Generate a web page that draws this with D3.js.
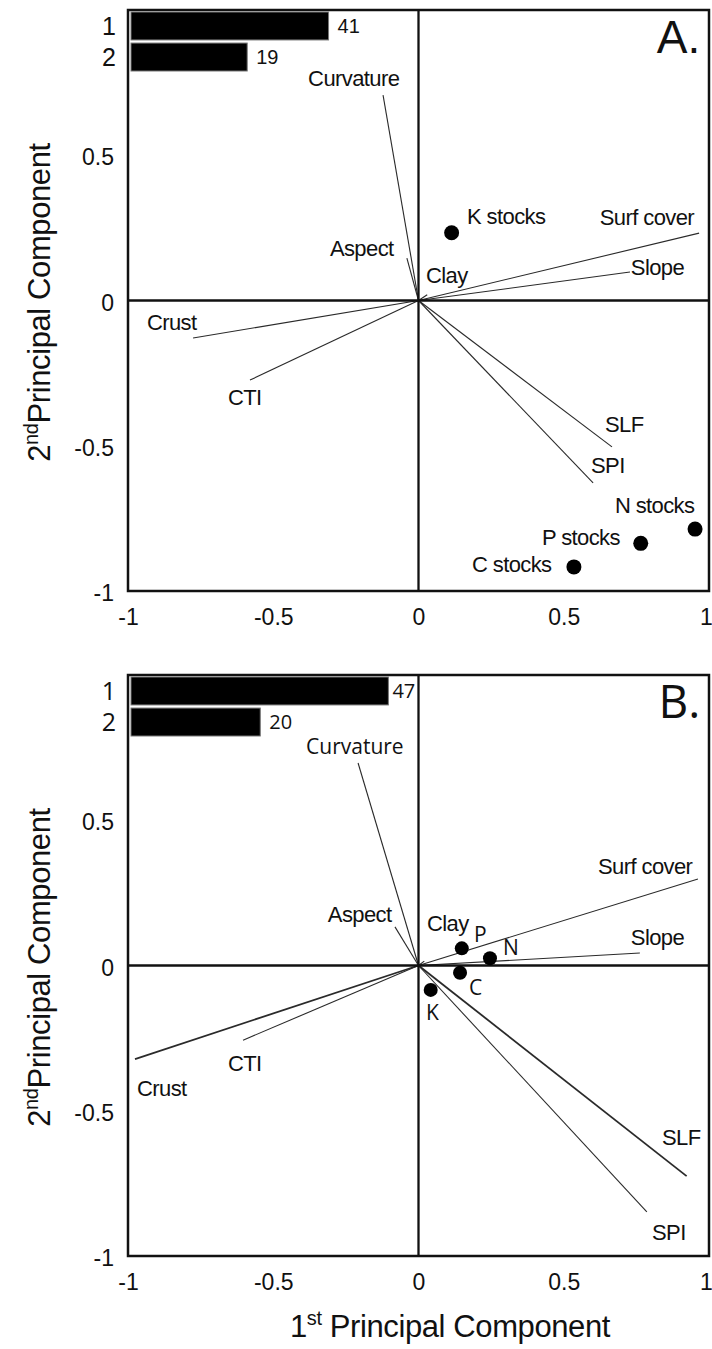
<!DOCTYPE html>
<html>
<head>
<meta charset="utf-8">
<script src="https://cdn.jsdelivr.net/npm/d3@7"></script>
<style>
  body { margin: 0; background: #fff; }
  text { font-family: "Liberation Sans", Arial, sans-serif; fill: #111; }
  .open { font-family: "Open Sans", sans-serif; }
</style>
</head>
<body>
<div class="canvas"></div>
<script>
// ---------- data ----------
const xTickVals = [-1, -0.5, 0, 0.5, 1];
const yTickVals = [-1, -0.5, 0, 0.5];
const barNames = ['1', '2'];

// panel A: variable loadings (vectors) and stock scores (points)
const varsA  = ['Curvature', 'Aspect', 'Clay', 'Surf cover', 'Slope', 'Crust', 'CTI', 'SLF', 'SPI'];
const varsAx = [-0.122, -0.040, 0.030, 0.966, 0.728, -0.776, -0.580, 0.666, 0.601];
const varsAy = [0.707, 0.146, 0.020, 0.232, 0.098, -0.129, -0.274, -0.504, -0.628];
const stocksA  = ['K stocks', 'N stocks', 'P stocks', 'C stocks'];
const stocksAx = [0.114, 0.952, 0.765, 0.535];
const stocksAy = [0.233, -0.787, -0.836, -0.917];
const pctA = [41, 19];          // % variance shown next to bars
const barLenA = [0.68, 0.40];   // bar length (axis units)

// panel B
const varsB  = ['Curvature', 'Aspect', 'Clay', 'Surf cover', 'Slope', 'Crust', 'CTI', 'SLF', 'SPI'];
const varsBx = [-0.208, -0.081, 0.020, 0.962, 0.762, -0.976, -0.604, 0.923, 0.786];
const varsBy = [0.697, 0.133, 0.015, 0.298, 0.043, -0.322, -0.257, -0.725, -0.848];
const stocksB  = ['P', 'N', 'C', 'K'];
const stocksBx = [0.149, 0.246, 0.143, 0.042];
const stocksBy = [0.059, 0.025, -0.025, -0.084];
const pctB = [47, 20];
const barLenB = [0.886, 0.445];

// ---------- label placement (left x, baseline y in axis units) ----------
const varLabA   = [[-0.380, 0.738], [-0.305, 0.153], [0.026, 0.060], [0.624, 0.260], [0.731, 0.088],
                   [-0.935, -0.102], [-0.656, -0.360], [0.642, -0.453], [0.594, -0.594]];
const stockLabA = [[0.167, 0.263], [0.676, -0.731], [0.425, -0.842], [0.184, -0.935]];
const varLabB   = [[-0.387, 0.727], [-0.312, 0.150], [0.029, 0.119], [0.618, 0.315], [0.731, 0.071],
                   [-0.969, -0.449], [-0.656, -0.363], [0.838, -0.618], [0.804, -0.945]];
const stockLabB = [[0.191, 0.081], [0.291, 0.036], [0.174, -0.102], [0.026, -0.188]];

// vectors drawn with a heavier stroke
const heavyB = ['Crust', 'SLF'];

const width = 712, height = 1349;

const svg = d3.select('.canvas')
  .append('svg')
  .attr('width', width)
  .attr('height', height);

// shared x scale
const x = d3.scaleLinear().domain([-1, 1]).range([128, 709]);
const barScale = d3.scaleLinear().domain([0, 1]).range([0, x(1) - x(0)]);

const drawPanel = (p) => {
  const y = d3.scaleLinear().domain([-1, 1]).range([p.bottom, p.top]);
  const g = svg.append('g');

  // loading vectors
  g.selectAll('line.vec')
    .data(p.vars)
    .join('line')
      .attr('class', 'vec')
      .attr('x1', x(0)).attr('y1', y(0))
      .attr('x2', (d, i) => x(p.vx[i]))
      .attr('y2', (d, i) => y(p.vy[i]))
      .attr('stroke', '#2a2a2a')
      .attr('stroke-width', d => p.heavy.includes(d) ? 1.8 : 1.1);

  // zero lines
  g.append('line')
    .attr('x1', x(0)).attr('x2', x(0))
    .attr('y1', y(-1)).attr('y2', y(1))
    .attr('stroke', '#111').attr('stroke-width', 2.3);
  g.append('line')
    .attr('x1', x(-1)).attr('x2', x(1))
    .attr('y1', y(0)).attr('y2', y(0))
    .attr('stroke', '#111').attr('stroke-width', 2.3);

  // frame
  g.append('rect')
    .attr('x', x(-1)).attr('y', y(1))
    .attr('width', x(1) - x(-1)).attr('height', y(-1) - y(1))
    .attr('fill', 'none')
    .attr('stroke', '#111').attr('stroke-width', 2.5);

  // vector labels
  g.selectAll('text.vlab')
    .data(p.vars)
    .join('text')
      .attr('class', 'vlab')
      .attr('x', (d, i) => x(p.varLab[i][0]))
      .attr('y', (d, i) => y(p.varLab[i][1]))
      .attr('font-size', 22)
      .attr('letter-spacing', -0.6)
      .text(d => d);

  // stock points
  g.selectAll('circle')
    .data(p.stocks)
    .join('circle')
      .attr('cx', (d, i) => x(p.sx[i]))
      .attr('cy', (d, i) => y(p.sy[i]))
      .attr('r', p.r)
      .attr('fill', '#000');

  g.selectAll('text.slab')
    .data(p.stocks)
    .join('text')
      .attr('class', 'slab' + (p.openStocks ? ' open' : ''))
      .attr('x', (d, i) => x(p.stockLab[i][0]))
      .attr('y', (d, i) => y(p.stockLab[i][1]))
      .attr('font-size', p.openStocks ? 21 : 22)
      .attr('letter-spacing', p.openStocks ? 0 : -0.6)
      .text(d => d);

  // Curvature label in panel B uses a different face
  if (p.openCurv) {
    g.selectAll('text.vlab').filter(d => d === 'Curvature')
      .attr('class', 'vlab open')
      .attr('font-size', 21)
      .attr('letter-spacing', 0);
  }

  // variance bars
  const yb = d3.scaleBand().domain(barNames)
    .range([p.top + 2, p.top + 61]).paddingInner(0.1);

  g.selectAll('rect.bar')
    .data(p.barLen)
    .join('rect')
      .attr('class', 'bar')
      .attr('x', x(-1) + 3)
      .attr('y', (d, i) => yb(barNames[i]))
      .attr('width', d => barScale(d))
      .attr('height', yb.bandwidth())
      .attr('fill', '#000')
      .attr('stroke', '#777')
      .attr('stroke-width', 1);

  g.selectAll('text.pct')
    .data(p.pct)
    .join('text')
      .attr('class', 'pct' + (p.openBars ? ' open' : ''))
      .attr('x', (d, i) => x(-1) + 3 + barScale(p.barLen[i]) + (i === 0 ? p.pctGap : 9))
      .attr('y', (d, i) => yb(barNames[i]) + yb.bandwidth() / 2 + 7)
      .attr('font-size', 20)
      .text(d => d);

  g.selectAll('text.bname')
    .data(barNames)
    .join('text')
      .attr('class', 'bname' + (p.openBars ? ' open' : ''))
      .attr('x', 116)
      .attr('text-anchor', 'end')
      .attr('y', d => yb(d) + yb.bandwidth() / 2 + 9)
      .attr('font-size', 25)
      .text(d => d);

  // panel letter
  g.append('text')
    .attr('class', p.openBars ? 'open' : '')
    .attr('x', x(0.97)).attr('y', y(1) + 43)
    .attr('text-anchor', 'end')
    .attr('font-size', 46)
    .text(p.letter);

  // axes
  const xAxis = d3.axisBottom(x).tickValues(xTickVals).tickSize(0).tickPadding(18)
    .tickFormat(d => String(d));
  const yAxis = d3.axisLeft(y).tickValues(yTickVals).tickSize(0).tickPadding(14)
    .tickFormat(d => String(d));

  const xg = g.append('g').attr('transform', `translate(0, ${p.bottom})`).call(xAxis);
  const yg = g.append('g').attr('transform', `translate(${x(-1)}, 0)`).call(yAxis);
  [xg, yg].forEach(a => {
    a.select('.domain').remove();
    a.selectAll('text')
      .attr('font-family', '"Liberation Sans", Arial, sans-serif')
      .attr('font-size', 23)
      .attr('fill', '#111');
  });
  yg.selectAll('text').attr('dy', '0.42em');
  // keep the last x label inside the page
  xg.selectAll('text').filter(d => d === 1).attr('dx', -3);

  // y axis title
  const yt = g.append('text')
    .attr('transform', `translate(50, ${(p.top + p.bottom) / 2 + 2}) rotate(-90)`)
    .attr('text-anchor', 'middle')
    .attr('font-size', 31)
    .attr('letter-spacing', -0.4);
  yt.append('tspan').text('2');
  yt.append('tspan').attr('font-size', 20).attr('dy', -12).text('nd');
  yt.append('tspan').attr('dy', 12).text('Principal Component');
};

drawPanel({
  top: 10, bottom: 591, letter: 'A.', r: 7.5,
  vars: varsA, vx: varsAx, vy: varsAy, varLab: varLabA, heavy: [],
  stocks: stocksA, sx: stocksAx, sy: stocksAy, stockLab: stockLabA,
  pct: pctA, barLen: barLenA, pctGap: 9,
  openStocks: false, openBars: false, openCurv: false
});

drawPanel({
  top: 675, bottom: 1256, letter: 'B.', r: 7,
  vars: varsB, vx: varsBx, vy: varsBy, varLab: varLabB, heavy: heavyB,
  stocks: stocksB, sx: stocksBx, sy: stocksBy, stockLab: stockLabB,
  pct: pctB, barLen: barLenB, pctGap: 4,
  openStocks: true, openBars: true, openCurv: true
});

// x axis title
const xt = svg.append('text')
  .attr('x', 450).attr('y', 1337)
  .attr('text-anchor', 'middle')
  .attr('font-size', 31)
  .attr('letter-spacing', -0.4);
xt.append('tspan').text('1');
xt.append('tspan').attr('font-size', 20).attr('dy', -12).text('st');
xt.append('tspan').attr('dy', 12).text(' Principal Component');
</script>
</body>
</html>
